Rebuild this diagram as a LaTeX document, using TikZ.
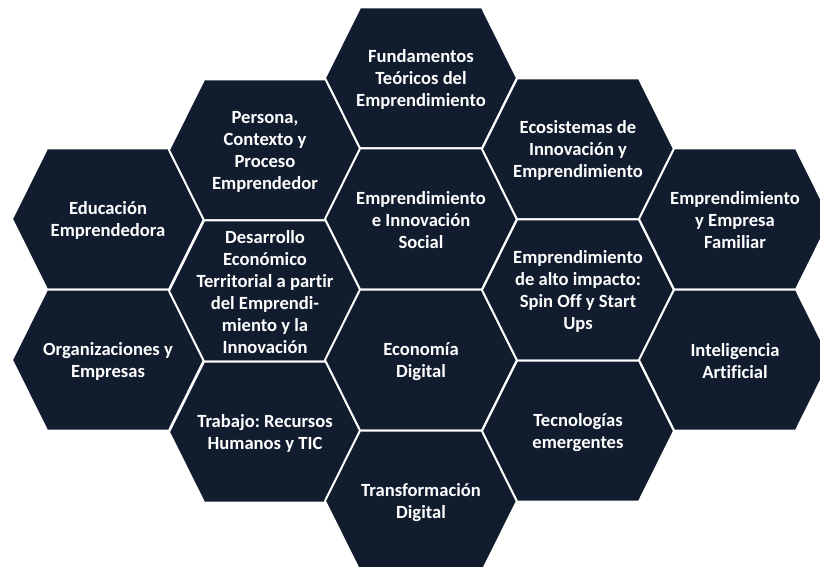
\documentclass[tikz,border=0pt]{standalone}
\usepackage{fontspec}
\setmainfont{Carlito}[Ligatures={NoCommon,NoRequired,NoContextual}]
\frenchspacing
\definecolor{hexnavy}{RGB}{17,28,46}
\tikzset{
  hexfill/.style={fill=hexnavy, draw=white, line width=2pt, line join=miter},
  hextext/.style={text=white, align=center, inner sep=0pt, font=\frenchspacing\bfseries\fontsize{18.6}{22}\selectfont},
}
\newcommand\hexcell[4]{%
  \path[hexfill] (#2-96,#3) -- (#2-61,#3-70.5) -- (#2+61,#3-70.5) -- (#2+96,#3)
     -- (#2+61,#3+70.5) -- (#2-61,#3+70.5) -- cycle;
  \node[hextext] (#1) at (#2,#3+1.5) {#4};%
}
\begin{document}
\begin{tikzpicture}[x=1pt,y=-1pt]
\useasboundingbox (0,0) rectangle (820,567);
\clip (0,0) rectangle (820,567);
% column 0
\hexcell{edu}{108}{219}{Educación\\Emprendedora}
\hexcell{org}{108}{360}{Organizaciones y\\Empresas}
% column 1
\hexcell{per}{265}{150}{Persona,\\Contexto y\\Proceso\\Emprendedor}
\hexcell{des}{265}{291}{Desarrollo\\Económico\\Territorial a partir\\del Emprendi-\\miento y la\\Innovación}
\hexcell{tra}{265}{432}{Trabajo: Recursos\\Humanos y TIC}
% column 2
\hexcell{fun}{421}{78}{Fundamentos\\Teóricos del\\Emprendimiento}
\hexcell{soc}{421}{219}{Emprendimiento\\e Innovación\\Social}
\hexcell{eco}{421}{360}{Economía\\Digital}
\hexcell{tdi}{421}{501}{Transformación\\Digital}
% column 3
\hexcell{ecs}{578}{149}{Ecosistemas de\\Innovación y\\Emprendimiento}
\hexcell{alt}{578}{290}{Emprendimiento\\de alto impacto:\\Spin Off y Start\\Ups}
\hexcell{tec}{578}{431}{Tecnologías\\emergentes}
% column 4
\hexcell{fam}{735}{219}{Emprendimiento\\y Empresa\\Familiar}
\hexcell{ia}{735}{360}{Inteligencia\\Artificial}
\end{tikzpicture}
\end{document}
